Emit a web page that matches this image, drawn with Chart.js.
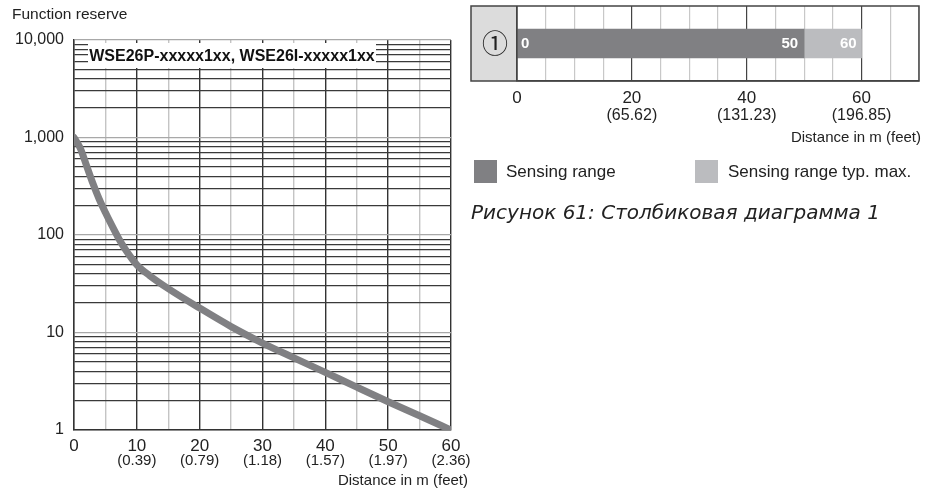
<!DOCTYPE html>
<html>
<head>
<meta charset="utf-8">
<script src="https://cdn.jsdelivr.net/npm/chart.js@4"></script>
<style>
  body { margin: 0; background: #fff; font-family: "Liberation Sans", sans-serif; color: #222; }
  #wrap { position: relative; width: 941px; height: 491px; overflow: hidden; }
  #c1 { position: absolute; left: 0; top: 0; }
  #c2 { position: absolute; left: 460px; top: 0; }
  .lg-box { position: absolute; top: 160px; width: 23px; height: 23px; }
  .lg-txt { position: absolute; top: 161px; font-size: 17px; line-height: 21px; }
  #caption { position: absolute; left: 471px; top: 200px; font-family: "DejaVu Sans", sans-serif; font-size: 20px; font-style: italic; line-height: 24px; }
</style>
</head>
<body>
<div id="wrap">
  <canvas id="c1" width="470" height="491"></canvas>
  <canvas id="c2" width="481" height="150"></canvas>
  <div class="lg-box" style="left:474px;background:#808083"></div>
  <div class="lg-txt" style="left:506px">Sensing range</div>
  <div class="lg-box" style="left:695px;background:#bbbcbf"></div>
  <div class="lg-txt" style="left:728px">Sensing range typ. max.</div>
  <div id="caption">Рисунок 61: Столбиковая диаграмма 1</div>
</div>
<script>
// --- function reserve curve (left chart) ---
let distance = [0, 1, 2, 3, 4, 5, 6, 7, 8, 10, 12, 15, 20, 25, 30, 35, 40, 45, 50, 55, 60];
let reserve = [1000, 776, 513, 339, 234, 170, 126, 95, 74, 49.5, 38.5, 28.2, 17.8, 11.5, 7.8, 5.5, 3.9, 2.75, 1.95, 1.4, 1.0];
let xTicks = [0, 10, 20, 30, 40, 50, 60];
let xFeet = ["", "(0.39)", "(0.79)", "(1.18)", "(1.57)", "(1.97)", "(2.36)"];
let yDecades = [1, 10, 100, 1000, 10000];
let curveTitle = "WSE26P-xxxxx1xx, WSE26I-xxxxx1xx";

// --- sensing range bar (right chart) ---
let barRows = ["①"];
let sensingRange = [0, 50];
let sensingMax = [50, 60];
let barTicks = [0, 20, 40, 60];
let barFeet = ["", "(65.62)", "(131.23)", "(196.85)"];

const DARK = "#333";
const GREY_LINE = "#a8a8a8";
const CURVE = "#808083";

let leftExtras = {
  id: "leftExtras",
  afterDraw(c) {
    let ctx = c.ctx, a = c.chartArea, xs = c.scales.x;
    ctx.save();
    // title box
    ctx.fillStyle = "#fff";
    ctx.fillRect(a.left + 14, a.top + 3, 288, 25);
    ctx.fillStyle = "#111";
    ctx.font = "bold 16px 'Liberation Sans'";
    ctx.textAlign = "center";
    ctx.textBaseline = "middle";
    ctx.fillText(curveTitle, a.left + 158, a.top + 17);
    // feet labels
    ctx.font = "15px 'Liberation Sans'";
    ctx.fillStyle = "#222";
    xTicks.forEach((v, i) => {
      if (xFeet[i]) ctx.fillText(xFeet[i], xs.getPixelForValue(v), a.bottom + 31);
    });
    ctx.textAlign = "right";
    ctx.fillText("Distance in m (feet)", a.right + 17, a.bottom + 51);
    ctx.textAlign = "left";
    ctx.font = "15.5px 'Liberation Sans'";
    ctx.fillText("Function reserve", 12, 15);
    ctx.restore();
  }
};

new Chart(document.getElementById("c1"), {
  type: "scatter",
  data: {
    datasets: [{
      data: distance.map((d, i) => ({ x: d, y: reserve[i] })),
      showLine: true,
      borderColor: CURVE,
      borderWidth: 7,
      borderCapStyle: "round",
      borderJoinStyle: "round",
      pointRadius: 0,
      cubicInterpolationMode: "monotone"
    }]
  },
  options: {
    responsive: false,
    animation: false,
    events: [],
    layout: { padding: { top: 40, right: 19, left: 0, bottom: 0 } },
    plugins: { legend: { display: false }, tooltip: { enabled: false } },
    scales: {
      x: {
        type: "linear", min: 0, max: 60,
        afterFit: s => { s.height = 61; },
        grid: {
          drawTicks: false,
          lineWidth: 1.4,
          color: ctx => (ctx.tick.value % 10 === 0 ? DARK : "#c4c4c4")
        },
        border: { color: DARK, width: 1.4 },
        ticks: {
          stepSize: 5, padding: 6, maxRotation: 0, autoSkip: false,
          color: "#222", font: { family: "Liberation Sans", size: 17 },
          callback: v => (xTicks.includes(v) ? String(v) : "")
        }
      },
      y: {
        type: "logarithmic", min: 1, max: 10000,
        afterFit: s => { s.width = 74; },
        afterBuildTicks: s => {
          let t = [];
          yDecades.forEach(d => {
            if (d === 10000) { t.push({ value: d }); return; }
            for (let m = 1; m < 10; m++) t.push({ value: d * m });
          });
          s.ticks = t;
        },
        grid: {
          drawTicks: false,
          lineWidth: 1.3,
          color: ctx => (yDecades.includes(ctx.tick.value) ? GREY_LINE : "#3a3a3a")
        },
        border: { color: DARK, width: 1.4 },
        ticks: {
          padding: 10, autoSkip: false,
          color: "#222", font: { family: "Liberation Sans", size: 16 },
          callback: v => (yDecades.includes(v) ? v.toLocaleString("en-US") : "")
        }
      }
    }
  },
  plugins: [leftExtras]
});

let barExtras = {
  id: "barExtras",
  beforeDraw(c) {
    let ctx = c.ctx, a = c.chartArea;
    ctx.save();
    ctx.fillStyle = "#dcdcdc";
    ctx.fillRect(11, a.top, a.left - 11, a.bottom - a.top);
    ctx.restore();
  },
  afterDraw(c) {
    let ctx = c.ctx, a = c.chartArea, xs = c.scales.x, ys = c.scales.y;
    ctx.save();
    ctx.strokeStyle = "#444";
    ctx.lineWidth = 1.5;
    ctx.strokeRect(11, a.top, a.right - 11, a.bottom - a.top);
    ctx.beginPath();
    ctx.moveTo(a.left, a.top);
    ctx.lineTo(a.left, a.bottom);
    ctx.stroke();
    // values inside bars
    let yc = ys.getPixelForValue(0);
    ctx.fillStyle = "#fff";
    ctx.font = "bold 15px 'Liberation Sans'";
    ctx.textBaseline = "middle";
    ctx.textAlign = "left";
    ctx.fillText(String(sensingRange[0]), xs.getPixelForValue(sensingRange[0]) + 4, yc);
    ctx.textAlign = "right";
    ctx.fillText(String(sensingRange[1]), xs.getPixelForValue(sensingRange[1]) - 6, yc);
    ctx.fillText(String(sensingMax[1]), xs.getPixelForValue(sensingMax[1]) - 5, yc);
    // feet labels
    ctx.fillStyle = "#222";
    ctx.font = "16px 'Liberation Sans'";
    ctx.textAlign = "center";
    barTicks.forEach((v, i) => {
      if (barFeet[i]) ctx.fillText(barFeet[i], xs.getPixelForValue(v), a.bottom + 35);
    });
    ctx.font = "15px 'Liberation Sans'";
    ctx.textAlign = "right";
    ctx.fillText("Distance in m (feet)", a.right + 2, a.bottom + 57);
    ctx.restore();
  }
};

new Chart(document.getElementById("c2"), {
  type: "bar",
  data: {
    labels: barRows,
    datasets: [
      { label: "Sensing range", data: [sensingRange], backgroundColor: "#808083", barThickness: 29, grouped: false },
      { label: "Sensing range typ. max.", data: [sensingMax], backgroundColor: "#bbbcbf", barThickness: 29, grouped: false }
    ]
  },
  options: {
    indexAxis: "y",
    responsive: false,
    animation: false,
    events: [],
    layout: { padding: { top: 6, right: 22, left: 0, bottom: 0 } },
    plugins: { legend: { display: false }, tooltip: { enabled: false } },
    scales: {
      x: {
        min: 0, max: 70,
        afterFit: s => { s.height = 69; s.paddingLeft = 0; s.paddingRight = 0; },
        grid: {
          drawTicks: false,
          lineWidth: 1.2,
          color: ctx => (ctx.tick.value % 20 === 0 ? "#444" : "#c8c8c8")
        },
        border: { color: "#444", width: 1.5 },
        ticks: {
          stepSize: 5, padding: 7, maxRotation: 0, autoSkip: false,
          color: "#222", font: { family: "Liberation Sans", size: 17 },
          callback: v => (barTicks.includes(v) ? String(v) : "")
        }
      },
      y: {
        afterFit: s => { s.width = 57; s.paddingTop = 0; s.paddingBottom = 0; },
        grid: { display: false },
        border: { display: false },
        ticks: {
          padding: 1, crossAlign: "near",
          color: "#222", font: { family: "Noto Sans CJK JP", size: 26 }
        }
      }
    }
  },
  plugins: [barExtras]
});
</script>
</body>
</html>
